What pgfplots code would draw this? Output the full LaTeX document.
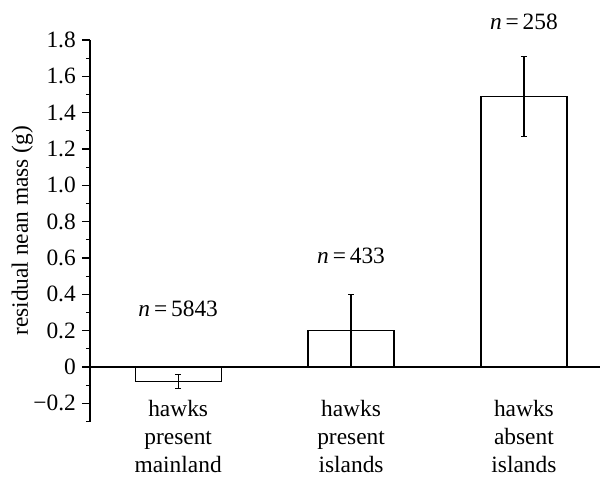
\documentclass[border=0pt]{standalone}
\usepackage{fontspec}
\setmainfont{Liberation Serif}
\usepackage{pgfplots}
\pgfplotsset{compat=1.18}
\begin{document}
\fontsize{11.7}{14}\selectfont
\begin{tikzpicture}
\begin{axis}[
  scale only axis, width=255pt, height=190.75pt,
  xmin=-0.51, xmax=2.44, ymin=-0.3, ymax=1.8,
  axis y line*=left, axis x line*=middle,
  axis line style={-, line width=0.6pt},
  hide obscured x ticks=false, hide obscured y ticks=false,
  ytick={-0.2,0,0.2,0.4,0.6,0.8,1.0,1.2,1.4,1.6,1.8},
  yticklabels={−0.2,0,0.2,0.4,0.6,0.8,1.0,1.2,1.4,1.6,1.8},
  minor ytick={-0.3,-0.1,0.1,0.3,0.5,0.7,0.9,1.1,1.3,1.5,1.7},
  tick align=outside, major tick length=4pt, minor tick length=2pt,
  tick style={line width=0.6pt, black},
  yticklabel style={xshift=1pt},
  xtick={0,1,2},
  xticklabels={hawks\\present\\mainland, hawks\\present\\islands, hawks\\absent\\islands},
  x tick style={draw=none},
  xticklabel style={align=center, yshift=-8.5pt},
  ylabel={residual nean mass (g)},
  every axis y label/.style={at={(axis description cs:-0.133,0.5)}, rotate=90, anchor=center},
  clip=false,
]
\addplot[ybar, bar width=43pt, fill=white, draw=black, line width=0.6pt,
  error bars/.cd, y dir=both, y explicit,
  error bar style={line width=0.6pt, black},
  error mark options={rotate=90, mark size=1.5pt, line width=0.6pt, black}]
  coordinates {(0,-0.08) +- (0,0.04) (1,0.2) +- (0,0.2) (2,1.49) +- (0,0.22)};
\node at (axis cs:0,0.32) {\textit{n}\,=\,5843};
\node at (axis cs:1,0.61) {\textit{n}\,=\,433};
\node at (axis cs:2,1.9) {\textit{n}\,=\,258};
\end{axis}
\pgfresetboundingbox
\path[use as bounding box] ([shift={(-45pt,-28pt)}]current axis.south west) rectangle ([shift={(0pt,20pt)}]current axis.north east);
\end{tikzpicture}
\end{document}
